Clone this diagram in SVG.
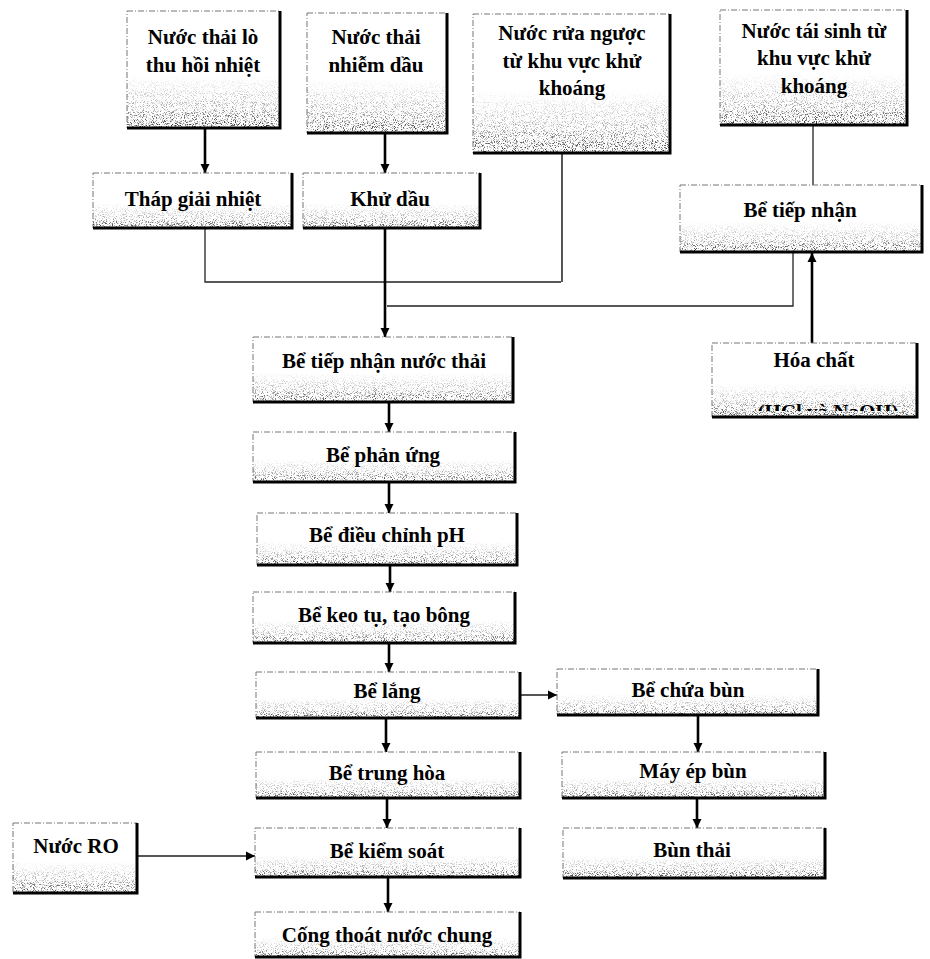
<svg xmlns="http://www.w3.org/2000/svg" width="930" height="959" viewBox="0 0 930 959">
<style>
.bg{fill:#fff}
.box{fill:#fff;stroke:#777;stroke-width:1;stroke-dasharray:6 2 1 2}
.sh{fill:url(#shade)}
.edge{fill:none;stroke:#000;stroke-width:3}
.t{font-family:"Liberation Serif","Times New Roman",serif;font-weight:bold;font-size:21px;fill:#000;text-anchor:middle}
.thk{fill:none;stroke:#000;stroke-width:2.6}
.thn{fill:none;stroke:#222;stroke-width:1.3}
.gry{fill:none;stroke:#555;stroke-width:2}
</style>
<defs>
<linearGradient id="shade" x1="0" y1="0" x2="0" y2="1">
<stop offset="0" stop-color="#000" stop-opacity="0"/>
<stop offset="0.55" stop-color="#000" stop-opacity="0"/>
<stop offset="0.82" stop-color="#000" stop-opacity="0.4"/>
<stop offset="1" stop-color="#000" stop-opacity="1"/>
</linearGradient>
<filter id="sp" x="0" y="0" width="1" height="1" color-interpolation-filters="sRGB">
<feTurbulence type="fractalNoise" baseFrequency="1.1" numOctaves="2" seed="7" result="n"/>
<feColorMatrix in="n" type="matrix" values="0 0 0 0 0.15  0 0 0 0 0.15  0 0 0 0 0.15  5 0 0 0 -2.55" result="d"/>
<feComposite in="d" in2="SourceGraphic" operator="in"/>
</filter>
<marker id="ar" viewBox="0 0 10 10" refX="10" refY="5" markerWidth="9" markerHeight="10" markerUnits="userSpaceOnUse" orient="auto">
<path d="M0,0 L10,5 L0,10 z" fill="#000"/>
</marker>
<clipPath id="hcClip"><rect x="712" y="390" width="205" height="21"/></clipPath>
</defs>
<rect class="bg" x="0" y="0" width="930" height="959"/>

<g id="connectors">
<path class="thk" d="M205,128 V173" marker-end="url(#ar)"/>
<path class="thk" d="M385,133 V173" marker-end="url(#ar)"/>
<path class="thn" d="M205,228 V282 H561"/>
<path class="gry" d="M562,153 V282"/>
<path class="thk" d="M385,228 V337" marker-end="url(#ar)"/>
<path class="thn" d="M793,252 V306 H387"/>
<path class="thn" d="M813,125 V185"/>
<path class="thk" d="M812,343 V253" marker-end="url(#ar)"/>
<path class="thk" d="M389,402 V432" marker-end="url(#ar)"/>
<path class="thk" d="M389,482 V513" marker-end="url(#ar)"/>
<path class="thk" d="M390,565 V592" marker-end="url(#ar)"/>
<path class="thk" d="M389,643 V672" marker-end="url(#ar)"/>
<path class="thk" d="M386,718 V752" marker-end="url(#ar)"/>
<path class="thk" d="M387,798 V828" marker-end="url(#ar)"/>
<path class="thk" d="M388,877 V912" marker-end="url(#ar)"/>
<path class="gry" d="M520,695 H557" marker-end="url(#ar)"/>
<path class="thk" d="M698,715 V752" marker-end="url(#ar)"/>
<path class="thk" d="M697,798 V828" marker-end="url(#ar)"/>
<path class="gry" d="M137,856 H255" marker-end="url(#ar)"/>
</g>

<g id="n-lo">
<rect class="box" x="127" y="11" width="153" height="117"/>
<rect class="sh" x="127" y="11" width="153" height="117" filter="url(#sp)"/>
<path class="edge" d="M280,11 V128 H127"/>
<text class="t" x="203" y="44">Nước thải lò</text>
<text class="t" x="203" y="72">thu hồi nhiệt</text>
</g>

<g id="n-dau">
<rect class="box" x="307" y="13" width="140" height="120"/>
<rect class="sh" x="307" y="13" width="140" height="120" filter="url(#sp)"/>
<path class="edge" d="M447,13 V133 H307"/>
<text class="t" x="376" y="44">Nước thải</text>
<text class="t" x="376" y="72">nhiễm dầu</text>
</g>

<g id="n-rua">
<rect class="box" x="473" y="14" width="197" height="139"/>
<rect class="sh" x="473" y="14" width="197" height="139" filter="url(#sp)"/>
<path class="edge" d="M670,14 V153 H473"/>
<text class="t" x="572" y="40">Nước rửa ngược</text>
<text class="t" x="572" y="68">từ khu vực khử</text>
<text class="t" x="572" y="95">khoáng</text>
</g>

<g id="n-taisinh">
<rect class="box" x="720" y="10" width="187" height="115"/>
<rect class="sh" x="720" y="10" width="187" height="115" filter="url(#sp)"/>
<path class="edge" d="M907,10 V125 H720"/>
<text class="t" x="814" y="38">Nước tái sinh từ</text>
<text class="t" x="814" y="65">khu vực khử</text>
<text class="t" x="814" y="93">khoáng</text>
</g>

<g id="n-thap">
<rect class="box" x="93" y="173" width="199" height="55"/>
<rect class="sh" x="93" y="173" width="199" height="55" filter="url(#sp)"/>
<path class="edge" d="M292,173 V228 H93"/>
<text class="t" x="193" y="206">Tháp giải nhiệt</text>
</g>

<g id="n-khudau">
<rect class="box" x="303" y="173" width="177" height="55"/>
<rect class="sh" x="303" y="173" width="177" height="55" filter="url(#sp)"/>
<path class="edge" d="M480,173 V228 H303"/>
<text class="t" x="390" y="206">Khử dầu</text>
</g>

<g id="n-tiepnhan">
<rect class="box" x="680" y="185" width="242" height="67"/>
<rect class="sh" x="680" y="185" width="242" height="67" filter="url(#sp)"/>
<path class="edge" d="M922,185 V252 H680"/>
<text class="t" x="800" y="217">Bể tiếp nhận</text>
</g>

<g id="n-tiepnhannt">
<rect class="box" x="253" y="337" width="260" height="65"/>
<rect class="sh" x="253" y="337" width="260" height="65" filter="url(#sp)"/>
<path class="edge" d="M513,337 V402 H253"/>
<text class="t" x="384" y="368">Bể tiếp nhận nước thải</text>
</g>

<g id="n-hoachat">
<rect class="box" x="712" y="343" width="205" height="74"/>
<rect class="sh" x="712" y="343" width="205" height="74" filter="url(#sp)"/>
<text class="t" x="828" y="419" clip-path="url(#hcClip)">(HCl và NaOH)</text>
<path class="edge" d="M917,343 V417 H712"/>
<text class="t" x="814" y="367">Hóa chất</text>
</g>

<g id="n-phanung">
<rect class="box" x="253" y="432" width="262" height="50"/>
<rect class="sh" x="253" y="432" width="262" height="50" filter="url(#sp)"/>
<path class="edge" d="M515,432 V482 H253"/>
<text class="t" x="383" y="462">Bể phản ứng</text>
</g>

<g id="n-ph">
<rect class="box" x="257" y="513" width="260" height="52"/>
<rect class="sh" x="257" y="513" width="260" height="52" filter="url(#sp)"/>
<path class="edge" d="M517,513 V565 H257"/>
<text class="t" x="387" y="542">Bể điều chỉnh pH</text>
</g>

<g id="n-keotu">
<rect class="box" x="253" y="592" width="262" height="51"/>
<rect class="sh" x="253" y="592" width="262" height="51" filter="url(#sp)"/>
<path class="edge" d="M515,592 V643 H253"/>
<text class="t" x="384" y="622">Bể keo tụ, tạo bông</text>
</g>

<g id="n-lang">
<rect class="box" x="256" y="672" width="264" height="46"/>
<rect class="sh" x="256" y="672" width="264" height="46" filter="url(#sp)"/>
<path class="edge" d="M520,672 V718 H256"/>
<text class="t" x="387" y="698">Bể lắng</text>
</g>

<g id="n-trunghoa">
<rect class="box" x="256" y="752" width="264" height="46"/>
<rect class="sh" x="256" y="752" width="264" height="46" filter="url(#sp)"/>
<path class="edge" d="M520,752 V798 H256"/>
<text class="t" x="387" y="780">Bể trung hòa</text>
</g>

<g id="n-kiemsoat">
<rect class="box" x="255" y="828" width="265" height="49"/>
<rect class="sh" x="255" y="828" width="265" height="49" filter="url(#sp)"/>
<path class="edge" d="M520,828 V877 H255"/>
<text class="t" x="387" y="858">Bể kiểm soát</text>
</g>

<g id="n-cong">
<rect class="box" x="255" y="912" width="265" height="45"/>
<rect class="sh" x="255" y="912" width="265" height="45" filter="url(#sp)"/>
<path class="edge" d="M520,912 V957 H255"/>
<text class="t" x="387" y="942">Cống thoát nước chung</text>
</g>

<g id="n-ro">
<rect class="box" x="13" y="823" width="124" height="70"/>
<rect class="sh" x="13" y="823" width="124" height="70" filter="url(#sp)"/>
<path class="edge" d="M137,823 V893 H13"/>
<text class="t" x="76" y="853">Nước RO</text>
</g>

<g id="n-chuabun">
<rect class="box" x="557" y="669" width="261" height="46"/>
<rect class="sh" x="557" y="669" width="261" height="46" filter="url(#sp)"/>
<path class="edge" d="M818,669 V715 H557"/>
<text class="t" x="688" y="697">Bể chứa bùn</text>
</g>

<g id="n-mayep">
<rect class="box" x="562" y="752" width="263" height="46"/>
<rect class="sh" x="562" y="752" width="263" height="46" filter="url(#sp)"/>
<path class="edge" d="M825,752 V798 H562"/>
<text class="t" x="693" y="778">Máy ép bùn</text>
</g>

<g id="n-bunthai">
<rect class="box" x="563" y="828" width="262" height="50"/>
<rect class="sh" x="563" y="828" width="262" height="50" filter="url(#sp)"/>
<path class="edge" d="M825,828 V878 H563"/>
<text class="t" x="692" y="857">Bùn thải</text>
</g>
</svg>
